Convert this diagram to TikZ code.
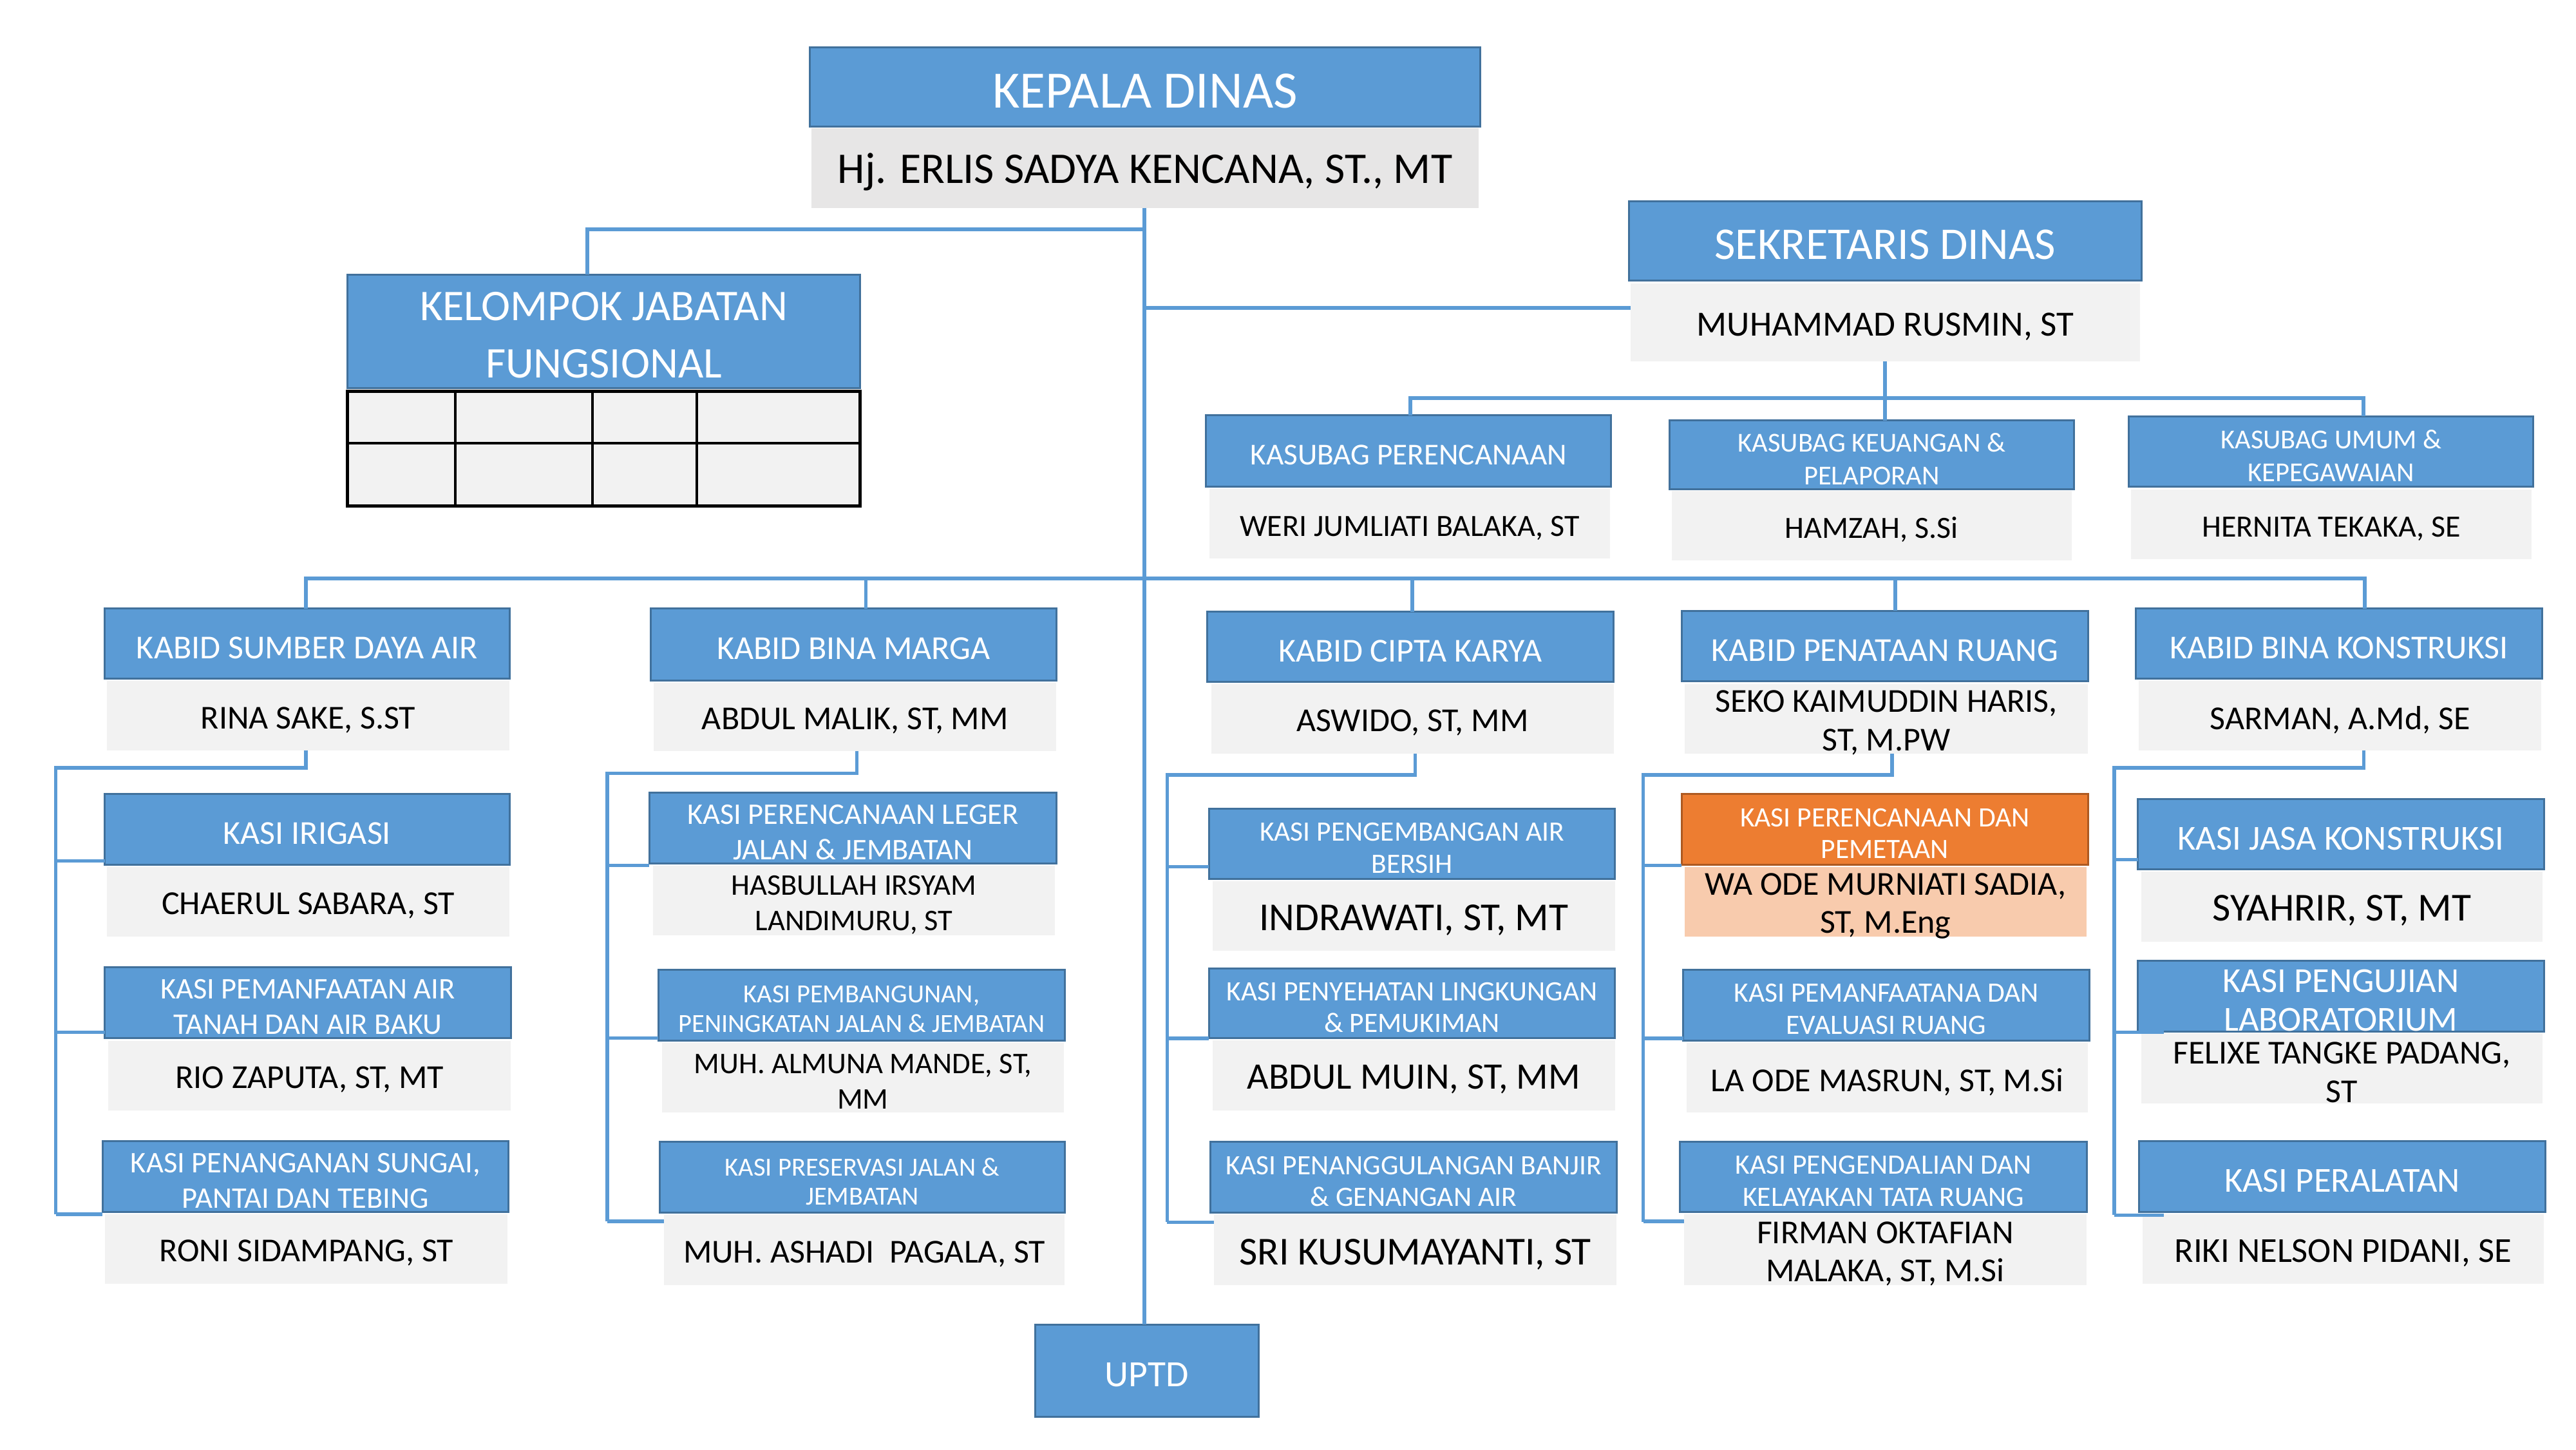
\documentclass[tikz,border=0pt]{standalone}
\usepackage{fontspec}
\setmainfont{Carlito}
\definecolor{hblue}{HTML}{5B9BD5}
\definecolor{hbord}{HTML}{41719C}
\definecolor{lgray}{HTML}{F2F2F2}
\definecolor{dgray}{HTML}{E7E6E6}
\definecolor{orng}{HTML}{ED7D31}
\definecolor{obord}{HTML}{AE5A21}
\definecolor{lorng}{HTML}{F8CBAD}
\newcommand{\fs}[2]{\fontsize{#1}{#2}\selectfont}
\newcommand{\bx}[7]{\node[#6, minimum width={(#4-#2)*0.5102pt}, minimum height={(#5-#3)*0.5102pt}] (#1) at ({(#2+#4)/2},{(#3+#5)/2}) {};
  \node[#6, fill=none, draw=none, yshift=-1.3pt] (#1T) at (#1.center) {#7};}
\newcommand{\cn}[3]{\draw[conn] (#2,#3) -- (#1.west |- #2,#3);}
\begin{document}
\begin{tikzpicture}[x=0.5102pt,y=-0.5102pt,
  hd/.style={fill=hblue, draw=hbord, line width=0.6pt, text=white, align=center, inner sep=0pt, outer sep=0pt},
  hdo/.style={hd, fill=orng, draw=obord},
  nm/.style={fill=lgray, align=center, inner sep=0pt, outer sep=0pt, text=black},
  conn/.style={draw=hblue, line width=1.1pt},
  kh/.style={hd, font=\fs{10.4}{12}},
  kn/.style={nm, font=\fs{10.4}{12}},
  sh/.style={hd, font=\fs{9.3}{11}},
  sn/.style={nm, font=\fs{9.3}{11}},
  th/.style={hd, font=\fs{8.1}{9.1}},
  mh/.style={hd, font=\fs{8.7}{9.9}}]
\useasboundingbox (0,0) rectangle (1568,882);
\fill[white] (0,0) rectangle (1568,882);

% top
\bx{kdH}{493}{29}{901}{77}{hd,font=\fs{16.3}{19}}{KEPALA DINAS}
\bx{kdN}{494}{78}{900}{126.5}{nm,fill=dgray,font=\fs{13.6}{16}}{Hj. ERLIS SADYA KENCANA, ST., MT}
\bx{kjH}{211.5}{167}{523.5}{236}{hd,font=\fs{13.6}{17.8}}{KELOMPOK JABATAN\\FUNGSIONAL}
\draw[fill=lgray, line width=1pt] (211.5,238) rectangle (523.5,308);
\draw[line width=0.8pt] (211.5,269.5) -- (523.5,269.5) (277,238) -- (277,308) (360.5,238) -- (360.5,308) (424,238) -- (424,308);
\bx{sdH}{991.6}{122.5}{1303.4}{170.6}{hd,font=\fs{14.1}{17}}{SEKRETARIS DINAS}
\bx{sdN}{992.5}{172.4}{1302.5}{219.9}{nm,font=\fs{11}{13}}{MUHAMMAD RUSMIN, ST}
\bx{kpH}{734.2}{252.8}{980.6}{296}{hd,font=\fs{9.45}{11}}{KASUBAG PERENCANAAN}
\bx{kpN}{736}{297.5}{980}{340}{nm,font=\fs{9.6}{11}}{WERI JUMLIATI BALAKA, ST}
\bx{kkH}{1016.3}{255.9}{1262.3}{297.6}{hd,font=\fs{8.5}{10.2}}{KASUBAG KEUANGAN \&\\PELAPORAN}
\bx{kkN}{1017.5}{298.7}{1261}{341}{nm,font=\fs{9.6}{11}}{HAMZAH, S.Si}
\bx{kuH}{1295.8}{253.4}{1542.1}{296.3}{hd,font=\fs{8.5}{10.2}}{KASUBAG UMUM \&\\KEPEGAWAIAN}
\bx{kuN}{1297}{298}{1541}{340.4}{nm,font=\fs{9.6}{11}}{HERNITA TEKAKA, SE}
\bx{uptd}{630}{806}{766}{862}{hd,font=\fs{11.5}{13}}{UPTD}

% column 1: sumber daya air
\bx{sdaH}{63.7}{370.3}{310.2}{413.1}{kh}{KABID SUMBER DAYA AIR}
\bx{sdaN}{65}{414.5}{310.2}{456.5}{kn}{RINA SAKE, S.ST}
\bx{irH}{63.7}{483}{310.2}{526.1}{kh}{KASI IRIGASI}
\bx{irN}{65}{527.5}{310.2}{569.8}{kn}{CHAERUL SABARA, ST}
\bx{paH}{63.7}{588.5}{311}{631.6}{sh}{KASI PEMANFAATAN AIR\\TANAH DAN AIR BAKU}
\bx{paN}{66}{633.3}{311}{675.6}{kn}{RIO ZAPUTA, ST, MT}
\bx{psH}{62.5}{694.3}{309.4}{737.4}{sh}{KASI PENANGANAN SUNGAI,\\PANTAI DAN TEBING}
\bx{psN}{64}{738.9}{309}{781.1}{kn}{RONI SIDAMPANG, ST}

% column 2: bina marga
\bx{bmH}{396.1}{370.3}{643}{414}{kh}{KABID BINA MARGA}
\bx{bmN}{398}{415.4}{643}{457.1}{kn}{ABDUL MALIK, ST, MM}
\bx{lgH}{395.2}{482.4}{643}{525.5}{sh}{KASI PERENCANAAN LEGER\\JALAN \& JEMBATAN}
\bx{lgN}{397.5}{527}{642}{569.2}{sn}{HASBULLAH IRSYAM\\LANDIMURU, ST}
\bx{pbH}{400.8}{590}{648.1}{633.1}{th}{KASI PEMBANGUNAN,\\PENINGKATAN JALAN \& JEMBATAN}
\bx{pbN}{403}{634.5}{647.5}{677}{sn}{MUH. ALMUNA MANDE, ST,\\MM}
\bx{prH}{401.6}{694.9}{648.1}{738}{th}{KASI PRESERVASI JALAN \&\\JEMBATAN}
\bx{prN}{404}{739.4}{648.1}{782}{kn}{MUH. ASHADI\ \ PAGALA, ST}

% column 3: cipta karya
\bx{ckH}{734.7}{372.3}{982.2}{414.8}{kh}{KABID CIPTA KARYA}
\bx{ckN}{737.4}{416.3}{982.2}{458.5}{kn}{ASWIDO, ST, MM}
\bx{pgH}{735.9}{492.2}{983}{534.7}{mh}{KASI PENGEMBANGAN AIR\\BERSIH}
\bx{pgN}{738}{536.2}{983}{578.4}{nm,font=\fs{12.3}{14}}{INDRAWATI, ST, MT}
\bx{pyH}{735.9}{589.4}{983}{631.6}{mh}{KASI PENYEHATAN LINGKUNGAN\\\& PEMUKIMAN}
\bx{pyN}{738}{633}{983}{675.6}{nm,font=\fs{11.6}{14}}{ABDUL MUIN, ST, MM}
\bx{pjH}{736.6}{694.9}{984.1}{738}{mh}{KASI PENANGGULANGAN BANJIR\\\& GENANGAN AIR}
\bx{pjN}{739}{739.4}{984}{782}{nm,font=\fs{12.3}{14}}{SRI KUSUMAYANTI, ST}

% column 4: penataan ruang
\bx{prgH}{1023.5}{371.7}{1271}{414.5}{kh}{KABID PENATAAN RUANG}
\bx{prgN}{1025.4}{416.3}{1271}{458.5}{kn}{SEKO KAIMUDDIN HARIS,\\ST, M.PW}
\bx{pmH}{1023.5}{483}{1271}{526.1}{hdo,font=\fs{8.7}{9.9}}{KASI PERENCANAAN DAN\\PEMETAAN}
\bx{pmN}{1025.4}{527.5}{1270}{569.8}{nm,fill=lorng,font=\fs{10.4}{11.8}}{WA ODE MURNIATI SADIA,\\ST, M.Eng}
\bx{peH}{1024.6}{590}{1271.7}{633.1}{mh}{KASI PEMANFAATANA DAN\\EVALUASI RUANG}
\bx{peN}{1026.5}{634.8}{1271}{677}{kn}{LA ODE MASRUN, ST, M.Si}
\bx{pkH}{1022.7}{694.9}{1270.2}{737.4}{mh}{KASI PENGENDALIAN DAN\\KELAYAKAN TATA RUANG}
\bx{pkN}{1025}{738.9}{1270}{782}{nm,font=\fs{10.4}{11.8}}{FIRMAN OKTAFIAN\\MALAKA, ST, M.Si}

% column 5: bina konstruksi
\bx{bkH}{1300}{370.3}{1547.4}{413.1}{kh}{KABID BINA KONSTRUKSI}
\bx{bkN}{1302}{414.5}{1546.8}{456.5}{kn}{SARMAN, A.Md, SE}
\bx{jkH}{1301.4}{486.4}{1548.4}{529}{hd,font=\fs{10.9}{12}}{KASI JASA KONSTRUKSI}
\bx{jkN}{1303.4}{530.4}{1547.4}{573}{nm,font=\fs{12.3}{14}}{SYAHRIR, ST, MT}
\bx{luH}{1301.4}{584.5}{1548.4}{627.6}{hd,font=\fs{10.9}{12}}{KASI PENGUJIAN\\LABORATORIUM}
\bx{luN}{1303.4}{628.8}{1547.4}{671.3}{nm,font=\fs{10.4}{12}}{FELIXE TANGKE PADANG,\\ST}
\bx{alH}{1302}{694.3}{1549.4}{737.4}{hd,font=\fs{10.9}{12}}{KASI PERALATAN}
\bx{alN}{1304}{738.9}{1548.4}{781.1}{nm,font=\fs{10.9}{12}}{RIKI NELSON PIDANI, SE}

% connectors top
\draw[conn] (kdN.south -| 696.5,0) -- (uptd.north -| 696.5,0);
\draw[conn] (696.5,139.5) -| (kjH.north -| 357.5,0);
\draw[conn] (696.5,187.4) -- (sdN.west |- 0,187.4);
\draw[conn] (sdN.south -| 1147.3,0) -- (kkH.north -| 1147.3,0);
\draw[conn] (kpH.north -| 858.5,0) -- (858.5,242.3) -- (1438.6,242.3) -- (kuH.north -| 1438.6,0);
% main bar
\draw[conn] (sdaH.north -| 186.1,0) -- (186.1,352) -- (1439.4,352) -- (bkH.north -| 1439.4,0);
\draw[conn] (527,352) -- (bmH.north -| 527,0);
\draw[conn] (859.6,352) -- (ckH.north -| 859.6,0);
\draw[conn] (1153.6,352) -- (prgH.north -| 1153.6,0);

% column trunks
\draw[conn] (sdaN.south -| 186.1,0) -- (186.1,467.2) -- (34,467.2) -- (34,738.9);
\cn{irH}{34}{523.8} \cn{paH}{34}{628.2} \cn{psH}{34}{738.9}
\draw[conn] (bmN.south -| 521.5,0) -- (521.5,470.6) -- (369.7,470.6) -- (369.7,743.2);
\cn{lgH}{369.7}{526.7} \cn{pbH}{369.7}{631.6} \draw[conn] (369.7,743.2) -- (prN.west |- 0,743.2);
\draw[conn] (ckN.south -| 861.5,0) -- (861.5,471.5) -- (710.4,471.5) -- (710.4,743.8);
\cn{pgH}{710.4}{527.5} \cn{pyH}{710.4}{631.9} \draw[conn] (710.4,743.8) -- (pjN.west |- 0,743.8);
\draw[conn] (prgN.south -| 1151.7,0) -- (1151.7,471.5) -- (1000.2,471.5) -- (1000.2,743.8);
\draw[conn] (1000.2,526.7) -- (pmH.west |- 0,526.7); \cn{peH}{1000.2}{631.9} \draw[conn] (1000.2,743.2) -- (pkN.west |- 0,743.2);
\draw[conn] (bkN.south -| 1438.8,0) -- (1438.8,467.2) -- (1287,467.2) -- (1287,739.4);
\cn{jkH}{1287}{523.2} \draw[conn] (1287,628.2) -- (1317,628.2); \draw[conn] (1287,739.4) -- (1317,739.4);
\end{tikzpicture}
\end{document}
